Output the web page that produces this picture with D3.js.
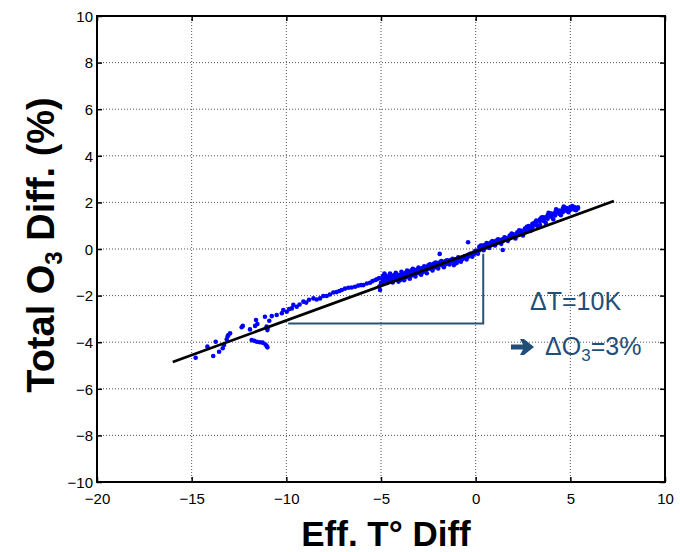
<!DOCTYPE html>
<html><head><meta charset="utf-8">
<script src="https://cdn.jsdelivr.net/npm/d3@7"></script>
<style>body{margin:0;background:#fff}svg{display:block}text{font-family:"Liberation Sans",Arial,sans-serif}</style>
</head><body><div id="c"></div>
<script>
// ---- data ----
const xTicks = [-20,-15,-10,-5,0,5,10];
const yTicks = [-10,-8,-6,-4,-2,0,2,4,6,8,10];
const effT = [
 -14.79,-14.17,-13.86,-13.73,-13.55,-13.36,-13.29,-13.15,-13.06,-12.97,-13.10,-12.36,-12.30,-11.92,-11.65,-11.60,-11.53,-11.13,-11.04,-11.00,-10.90,-10.77,-10.51,-11.00,
 -11.83,-11.70,-11.56,-11.40,-11.25,-11.10,-11.04,-11.00,
 -10.24,-10.16,-9.98,-9.85,-9.71,-9.63,-9.45,-9.30,-9.10,-8.95,-8.80,-8.57,-8.40,-8.22,-8.05,-7.87,-7.70,-7.52,-7.35,-7.20,-7.07,-6.90,-6.72,-6.55,-6.37,-6.20,-6.05,-5.93,-5.75,-5.58,-5.45,-5.30,-5.22,-5.10,-5.05,-5.08,-5.00,
 -4.90,-4.90,-4.90,-4.75,-4.75,-4.75,-4.60,-4.60,-4.60,-4.45,-4.45,-4.45,-4.30,-4.30,-4.30,-4.15,-4.15,-4.15,-4.00,-4.00,-4.00,
 -3.85,-3.85,-3.85,-3.70,-3.70,-3.70,-3.55,-3.55,-3.55,-3.40,-3.40,-3.40,-3.25,-3.25,-3.25,-3.10,-3.10,-3.10,-2.95,-2.95,-2.95,
 -2.80,-2.80,-2.80,-2.65,-2.65,-2.65,-2.50,-2.50,-2.50,-2.35,-2.35,-2.35,-2.20,-2.20,-2.20,-2.05,-2.05,-2.05,-1.90,-1.90,-1.90,
 -1.75,-1.75,-1.75,-1.60,-1.60,-1.60,-1.45,-1.45,-1.45,-1.30,-1.30,-1.15,-1.15,-1.15,-1.00,-1.00,-1.00,-0.85,-0.85,-0.70,-0.70,
 -0.55,-0.55,-0.40,-0.40,-0.40,-0.25,-0.25,-0.10,-0.10,-0.10,0.05,0.05,0.20,0.20,0.20,
 0.35,0.35,0.35,0.50,0.50,0.50,0.65,0.65,0.65,0.80,0.80,0.80,0.95,0.95,0.95,1.10,1.10,1.10,1.25,1.25,1.43,1.43,1.43,1.60,1.60,
 1.80,1.80,1.80,2.00,2.00,2.00,2.20,2.20,2.20,2.40,2.40,2.40,2.60,2.60,2.60,2.80,2.80,2.80,3.00,3.00,3.00,3.20,3.20,3.20,
 3.40,3.40,3.40,3.60,3.60,3.60,3.80,3.80,3.80,4.00,4.00,4.00,4.20,4.20,4.20,4.40,4.40,4.40,4.60,4.60,4.60,4.80,4.80,4.80,
 5.00,5.00,5.00,5.20,5.20,5.20,5.40,5.40,
 -4.82,-4.68,-4.52,-4.38,-4.22,-4.08,-3.92,-3.78,-3.62,-3.48,-3.32,-3.18,-3.02,-2.88,-2.72,-2.58,-2.42,-2.28,-2.12,-1.98,
 -1.82,-1.68,-1.52,-1.38,-1.22,-1.08,-0.92,-0.78,-0.62,-0.48,-0.32,-0.18,-0.02,0.12,0.28,0.42,0.58,0.72,0.88,1.02,
 1.18,1.35,1.52,1.70,1.90,2.10,2.30,2.50,2.70,2.90,3.10,3.30,3.50,3.70,3.90,4.10,4.30,4.50,4.70,4.90,5.10,5.30,3.45,3.85,4.25,4.65
];
const o3Diff = [
 -4.67,-4.19,-4.59,-3.98,-4.41,-4.26,-4.12,-3.88,-3.69,-3.62,-3.75,-3.36,-3.30,-3.45,-3.30,-3.05,-3.22,-2.91,-3.33,-3.48,-3.08,-2.88,-2.83,-3.40,
 -3.91,-3.94,-3.98,-4.00,-4.02,-4.10,-4.16,-4.22,
 -2.76,-2.62,-2.69,-2.58,-2.55,-2.40,-2.48,-2.38,-2.26,-2.30,-2.18,-2.12,-2.17,-2.12,-2.02,-2.02,-1.95,-1.87,-1.85,-1.80,-1.76,-1.70,-1.66,-1.65,-1.62,-1.57,-1.55,-1.55,-1.48,-1.45,-1.38,-1.33,-1.30,-1.25,-1.76,-1.60,-1.45,
 -1.16,-1.30,-1.42,-1.14,-1.28,-1.38,-1.18,-1.30,-1.40,-1.15,-1.25,-1.36,-1.20,-1.28,-1.12,-1.22,-1.30,-1.10,-1.26,-1.12,-1.34,
 -1.05,-1.18,-1.28,-1.02,-1.12,-1.22,-0.98,-1.08,-1.20,-0.92,-1.04,-1.15,-0.90,-1.00,-1.10,-0.95,-1.03,-0.88,-0.97,-0.84,-1.05,
 -0.82,-0.92,-1.00,-0.79,-0.88,-0.96,-0.76,-0.85,-0.70,-0.68,-0.78,-0.85,-0.62,-0.72,-0.80,-0.60,-0.68,-0.76,-0.58,-0.69,-0.21,
 -0.56,-0.64,-0.70,-0.52,-0.60,-0.66,-0.50,-0.57,-0.63,-0.47,-0.55,-0.45,-0.52,-0.69,-0.43,-0.50,-0.60,-0.40,-0.47,-0.38,-0.44,
 -0.30,-0.38,-0.26,0.29,-0.33,-0.20,-0.28,-0.15,-0.22,-0.19,-0.08,-0.14,0.05,-0.05,0.10,
 0.08,0.00,0.15,0.12,0.05,0.18,0.17,0.10,0.22,0.24,0.16,0.28,0.26,0.20,0.32,0.32,0.25,0.36,0.39,0.30,-0.04,0.42,0.34,0.47,0.40,
 0.53,0.46,0.58,0.58,0.52,0.63,0.66,0.60,0.72,0.72,0.65,0.78,0.82,0.74,0.88,0.92,0.84,0.98,1.02,0.92,1.08,1.15,1.02,1.22,
 1.03,1.20,1.28,1.30,1.20,1.36,1.39,1.30,1.45,1.46,1.38,1.52,1.52,1.44,1.58,1.60,1.52,1.65,1.67,1.58,1.72,1.72,1.64,1.76,
 1.75,1.68,1.80,1.75,1.70,1.80,1.79,1.74,
 -1.05,-1.46,-1.05,-1.44,-1.02,-1.40,-0.98,-1.34,-0.92,-1.28,-0.85,-1.18,-0.80,-1.10,-0.74,-1.04,-0.66,-0.92,-0.58,-0.84,
 -0.52,-0.78,-0.48,-0.66,-0.42,-0.62,-0.36,-0.55,-0.33,-0.45,-0.22,-0.33,-0.08,-0.20,0.15,-0.05,0.26,0.04,0.34,0.15,
 0.42,0.22,0.50,0.35,0.66,0.45,0.80,0.58,0.95,0.78,1.12,0.95,1.36,1.12,1.52,1.28,1.64,1.45,1.78,1.58,1.84,1.66,1.32,1.55,1.70,1.82
];
const fitX = [-16, 7.3];
const fitY = [-4.85, 2.06];
const triX = [-9.9, 0.4, 0.4];
const triY = [-3.2, -3.2, -0.2];

// ---- layout ----
const W = 680, H = 552;
const svg = d3.select("#c").append("svg").attr("width", W).attr("height", H);
const x = d3.scaleLinear().domain([-20,10]).range([97,665]);
const y = d3.scaleLinear().domain([-10,10]).range([482,16]);

// grid
const g = svg.append("g");
g.selectAll(".gx").data(xTicks.slice(1,-1)).join("line")
 .attr("x1",d=>x(d)).attr("x2",d=>x(d)).attr("y1",y(10)).attr("y2",y(-10))
 .attr("stroke","#555").attr("stroke-width",1).attr("stroke-dasharray","1,2");
g.selectAll(".gy").data(yTicks.slice(1,-1)).join("line")
 .attr("y1",d=>y(d)).attr("y2",d=>y(d)).attr("x1",x(-20)).attr("x2",x(10))
 .attr("stroke","#555").attr("stroke-width",1).attr("stroke-dasharray","1,2");

// axes
const ax = svg.append("g").attr("transform",`translate(0,${y(-10)})`)
 .call(d3.axisBottom(x).tickValues(xTicks).tickSize(-5).tickPadding(8).tickFormat(d3.format("d")));
const axT = svg.append("g").attr("transform",`translate(0,${y(10)})`)
 .call(d3.axisTop(x).tickValues(xTicks).tickSize(-5).tickFormat(""));
const ay = svg.append("g").attr("transform",`translate(${x(-20)},0)`)
 .call(d3.axisLeft(y).tickValues(yTicks).tickSize(-5).tickPadding(4).tickFormat(d3.format("d")));
const ayR = svg.append("g").attr("transform",`translate(${x(10)},0)`)
 .call(d3.axisRight(y).tickValues(yTicks).tickSize(-5).tickFormat(""));
[ax,axT,ay,ayR].forEach(a=>{
 a.select(".domain").remove();
 a.selectAll(".tick line").attr("stroke","#000").attr("stroke-width",1.5);
 a.selectAll(".tick text").attr("fill","#000").style("font-size","15px");
});
ax.selectAll(".tick text").attr("dy","0.9em");
ay.selectAll(".tick text").attr("dy","0.35em");
svg.append("rect").attr("x",x(-20)).attr("y",y(10)).attr("width",x(10)-x(-20)).attr("height",y(-10)-y(10))
 .attr("fill","none").attr("stroke","#000").attr("stroke-width",2);

// points
const pts = effT.map((v,i)=>[v,o3Diff[i]]);
svg.append("g").selectAll("circle").data(pts).join("circle")
 .attr("cx",d=>x(d[0])).attr("cy",d=>y(d[1])).attr("r",2.3).attr("fill","#0000ff");

// fit line
svg.append("line").attr("x1",x(fitX[0])).attr("y1",y(fitY[0])).attr("x2",x(fitX[1])).attr("y2",y(fitY[1]))
 .attr("stroke","#000").attr("stroke-width",2.8);

// triangle
svg.append("path").attr("d",d3.line()(triX.map((v,i)=>[x(v),y(triY[i])])))
 .attr("fill","none").attr("stroke","#2a5178").attr("stroke-width",2);

// annotations
const ac = "#1f4e79";
svg.append("text").attr("x",530).attr("y",310).attr("fill",ac).style("font-size","25px").text("ΔT=10K");
// heavy arrow symbol
svg.append("path").attr("fill",ac)
 .attr("d","M511,344.5 L523,344.5 L520,339 L524,339 L534,347 L524,355 L520,355 L523,349.5 L511,349.5 Z");
const t2 = svg.append("text").attr("x",545).attr("y",355).attr("fill",ac).style("font-size","25px");
t2.append("tspan").text("ΔO");
t2.append("tspan").attr("dy",6).style("font-size","17px").text("3");
t2.append("tspan").attr("dy",-6).text("=3%");

// axis titles
const yl = svg.append("text").attr("transform","translate(54,245) rotate(-90)").attr("text-anchor","middle")
 .style("font-size","38px").style("font-weight","bold").attr("fill","#000");
yl.append("tspan").text("Total O");
yl.append("tspan").attr("dy",8).style("font-size","24px").text("3");
yl.append("tspan").attr("dy",-8).text(" Diff. (%)");
svg.append("text").attr("x",386).attr("y",546).attr("text-anchor","middle")
 .style("font-size","35px").style("font-weight","bold").attr("fill","#000").text("Eff. T° Diff");
</script></body></html>
